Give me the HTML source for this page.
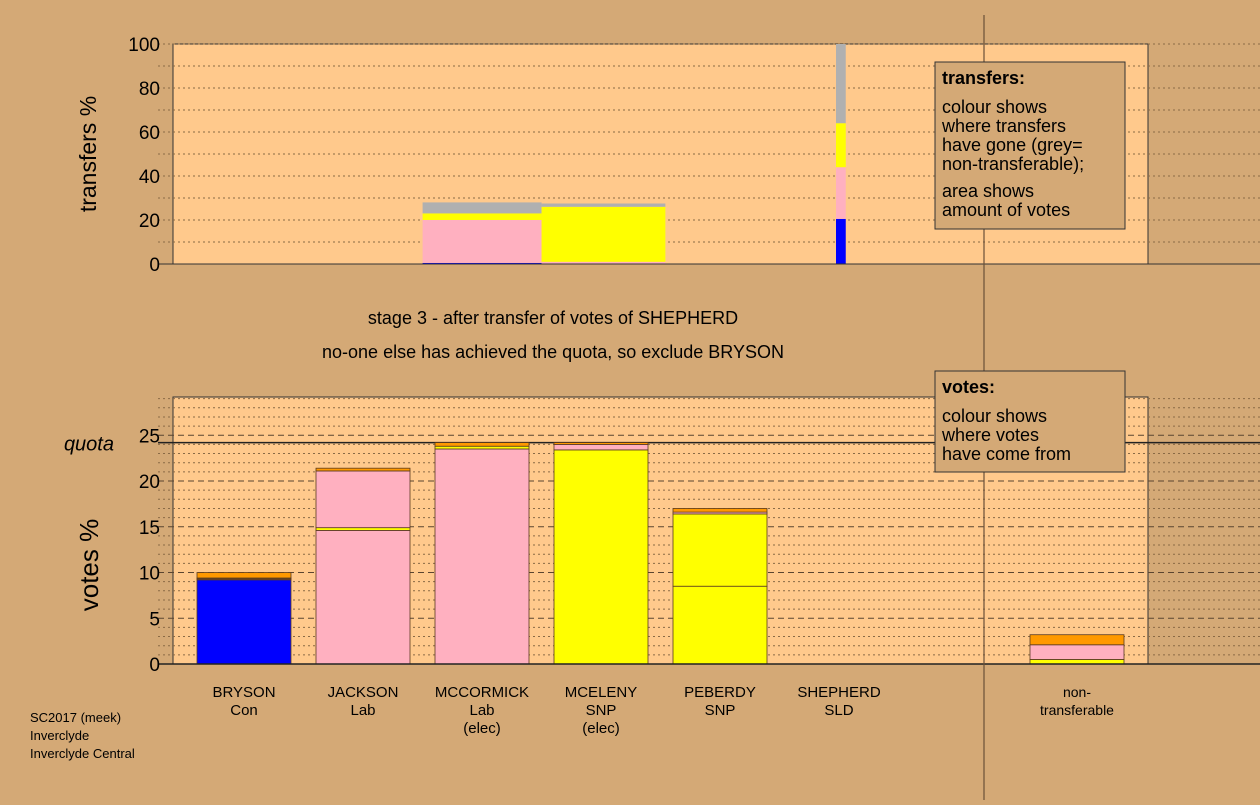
<!DOCTYPE html>
<html><head><meta charset="utf-8"><style>
body{margin:0;width:1260px;height:800px;background:#d4a976;overflow:hidden;font-family:"Liberation Sans",sans-serif}
</style></head><body>
<svg id="c" width="1260" height="800" xmlns="http://www.w3.org/2000/svg" font-family="Liberation Sans, sans-serif"></svg>
<script>
const candidates=["BRYSON","JACKSON","MCCORMICK","MCELENY","PEBERDY","SHEPHERD","","non-"];
const parties=["Con","Lab","Lab","SNP","SNP","SLD","","transferable"];
const notes=["","","(elec)","(elec)","","","",""];
const segColors=["#0000ff","#ffb0c0","#ffff00","#ff9900","#b0b0b0"];
// vote segments per candidate: [colourIndex, size]
const voteSegs=[
 [[0,9.2],[1,0.1],[2,0.1],[3,0.6]],
 [[1,14.6],[2,0.3],[1,6.2],[3,0.3]],
 [[1,23.5],[2,0.3],[3,0.4]],
 [[2,23.4],[1,0.6],[3,0.2]],
 [[2,8.5],[2,7.9],[1,0.2],[3,0.4]],
 [],[],
 [[2,0.5],[1,1.6],[3,1.1]]
];
// transfer blocks: [x0 %, x1 %, segments]
const transferBlocks=[
 [25.6,37.8,[[0,0.5],[1,19.5],[2,3],[4,5]]],
 [37.8,50.5,[[1,1],[2,25],[4,1.5]]],
 [68,69,[[0,20.5],[1,23.5],[2,20],[4,36]]]
];
const votesTicks=[0,5,10,15,20,25];
const transferTicks=[0,20,40,60,80,100];
const quota=24.2;

const S=document.getElementById('c');const NS="http://www.w3.org/2000/svg";
function el(t,a,p){const e=document.createElementNS(NS,t);for(const k in a)e.setAttribute(k,a[k]);(p||S).appendChild(e);return e;}
function tx(x,y,s,size,anchor,extra){const e=el('text',Object.assign({x:x,y:y,'font-size':size,'text-anchor':anchor||'middle',fill:'#000'},extra||{}));e.textContent=s;return e;}
// scales
const TX0=173,TX1=1148,TY0=264,TY1=44;
const ty=v=>TY0-(v/100)*(TY0-TY1);
const tx_=p=>TX0+p/100*(TX1-TX0);
const VY0=664,VPX=9.15;
const vy=v=>VY0-v*VPX;
const bx=i=>197+i*119;const BW=94;

// top panel
let r=el('rect',{x:TX0,y:TY1,width:TX1-TX0,height:TY0-TY1,fill:'#ffc98c',stroke:'#333'});

for(let v=10;v<=100;v+=10){const l=el('line',{x1:158,x2:1260,y1:ty(v),y2:ty(v),stroke:'#8a6a45','stroke-dasharray':'2,3'});}
transferBlocks.forEach((b,bi)=>{let acc=0;b[2].forEach(s=>{const e=el('rect',{x:tx_(b[0]),width:tx_(b[1])-tx_(b[0]),y:ty(acc+s[1]),height:ty(acc)-ty(acc+s[1]),fill:segColors[s[0]]});
acc+=s[1];});});
el('line',{x1:158,x2:1260,y1:TY0,y2:TY0,stroke:'#333'});
transferTicks.forEach(v=>{const t=tx(160,ty(v)+7,String(v),19,'end');});
let yt=tx(96,154,'transfers %',23,'middle',{transform:'rotate(-90 96 154)'});

// titles
let t1=tx(553,324,'stage 3 - after transfer of votes of SHEPHERD',18);
let t2=tx(553,358,'no-one else has achieved the quota, so exclude BRYSON',18);

// bottom panel
r=el('rect',{x:TX0,y:397,width:TX1-TX0,height:VY0-397,fill:'#ffc98c',stroke:'#333'});

for(let v=1;v<=29;v++){const l=el('line',{x1:158,x2:1260,y1:vy(v),y2:vy(v),stroke:v%5?'#8a6a45':'#5a4530','stroke-dasharray':v%5?'2,3':'6,4'});}
let q=el('line',{x1:158,x2:1260,y1:vy(quota),y2:vy(quota),stroke:'#222','stroke-width':1.5});
let ql=tx(114,vy(quota)+8,'quota',20,'end',{'font-style':'italic'});
voteSegs.forEach((segs,i)=>{let acc=0;segs.forEach(s=>{const e=el('rect',{x:bx(i),width:BW,y:vy(acc+s[1]),height:vy(acc)-vy(acc+s[1]),fill:segColors[s[0]],stroke:'#5a3a20','stroke-width':0.8});
acc+=s[1];});
 if(candidates[i]){const g=el('g',{});
 const cx=bx(i)+BW/2;tx(cx,697,candidates[i],15,'middle',{}).remove();
 [candidates[i],parties[i],notes[i]].forEach((s,k)=>{if(s){const t=el('text',{x:cx,y:697+k*18,'font-size':i==7?14:15,'text-anchor':'middle'},g);t.textContent=s;}});}
});
el('line',{x1:158,x2:1260,y1:VY0,y2:VY0,stroke:'#222','stroke-width':1.5});
votesTicks.forEach(v=>{const t=tx(160,vy(v)+7,String(v),19,'end');});
yt=tx(98,565,'votes %',26,'middle',{transform:'rotate(-90 98 565)'});

// divider
let d=el('line',{x1:984,x2:984,y1:15,y2:800,stroke:'#6a5038','stroke-width':1.2});

// legends
function legend(y,h,title,lines,name){const g=el('g',{});
 el('rect',{x:935,y:y,width:190,height:h,fill:'#d4a976',stroke:'#333'},g);
 let t=el('text',{x:942,y:y+22,'font-size':18,'font-weight':'bold'},g);t.textContent=title;
 lines.forEach((s,k)=>{if(s[0]){const e=el('text',{x:942,y:y+s[1],'font-size':18},g);e.textContent=s[0];}});}
legend(62,167,'transfers:',[['colour shows',51],['where transfers',70],['have gone (grey=',89],['non-transferable);',108],['area shows',135],['amount of votes',154]],'transfers-legend');
legend(371,101,'votes:',[['colour shows',51],['where votes',70],['have come from',89]],'votes-legend');

// footer
[['SC2017 (meek)',722],['Inverclyde',740],['Inverclyde Central',758]].forEach(s=>{const t=tx(30,s[1],s[0],13,'start');});
</script>
</body></html>
